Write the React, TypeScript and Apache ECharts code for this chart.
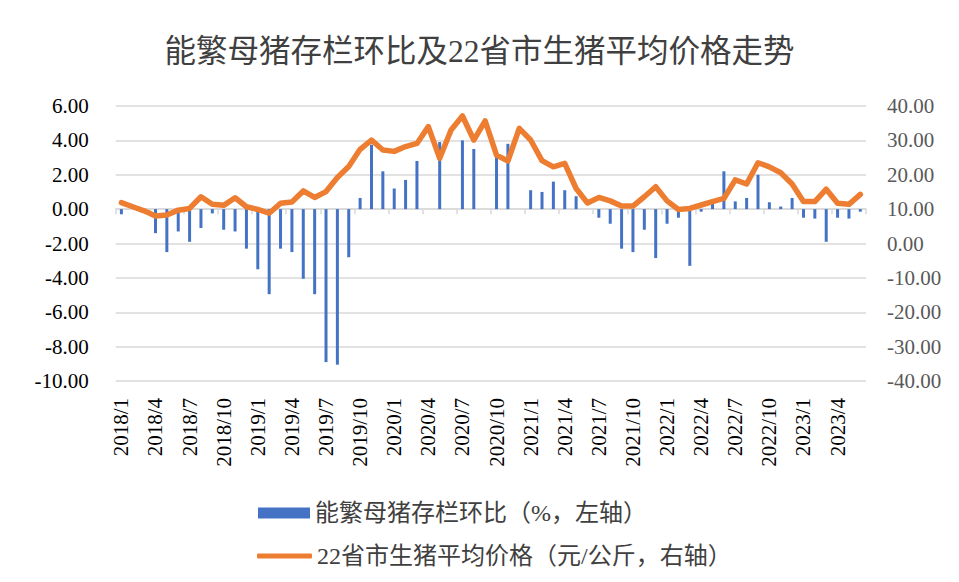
import React, { useEffect, useRef } from "react";
import * as echarts from "echarts";

const months = [
  "2018/1", "2018/2", "2018/3", "2018/4", "2018/5", "2018/6", "2018/7", "2018/8", "2018/9", "2018/10", "2018/11", "2018/12",
  "2019/1", "2019/2", "2019/3", "2019/4", "2019/5", "2019/6", "2019/7", "2019/8", "2019/9", "2019/10", "2019/11", "2019/12",
  "2020/1", "2020/2", "2020/3", "2020/4", "2020/5", "2020/6", "2020/7", "2020/8", "2020/9", "2020/10", "2020/11", "2020/12",
  "2021/1", "2021/2", "2021/3", "2021/4", "2021/5", "2021/6", "2021/7", "2021/8", "2021/9", "2021/10", "2021/11", "2021/12",
  "2022/1", "2022/2", "2022/3", "2022/4", "2022/5", "2022/6", "2022/7", "2022/8", "2022/9", "2022/10", "2022/11", "2022/12",
  "2023/1", "2023/2", "2023/3", "2023/4", "2023/5", "2023/6",
];

// 能繁母猪存栏环比（%）
const sowChange = [
  -0.3, 0, 0, -1.4, -2.5, -1.3, -1.9, -1.1, -0.25, -1.2, -1.3, -2.3,
  -3.5, -4.95, -2.3, -2.5, -4.05, -4.95, -8.9, -9.05, -2.8, 0.65, 3.75, 2.2,
  1.2, 1.7, 2.8, 0, 3.9, 0, 4.0, 3.5, 0, 3.1, 3.8, 0,
  1.1, 1.0, 1.6, 1.1, 0.75, 0, -0.5, -0.85, -2.3, -2.5, -1.2, -2.85,
  -0.85, -0.5, -3.3, -0.15, 0.3, 2.2, 0.45, 0.65, 2.0, 0.4, 0.15, 0.65,
  -0.5, -0.55, -1.9, -0.5, -0.55, -0.15,
];

// 22省市生猪平均价格（元/公斤）
const hogPrice = [
  11.9, 10.7, 9.5, 8.0, 8.3, 9.7, 10.2, 13.6, 11.4, 11.1, 13.3, 10.7,
  9.9, 8.8, 11.7, 12.1, 15.3, 13.4, 15.1, 19.2, 22.4, 27.4, 30.1, 27.2,
  26.8, 28.2, 29.1, 34.0, 24.8, 33.0, 37.1, 30.1, 35.7, 25.7, 24.0, 33.5,
  30.1, 24.1, 22.3, 23.3, 16.0, 11.8, 13.4, 12.4, 10.9, 10.9, 13.6, 16.5,
  12.4, 9.9, 10.2, 11.2, 12.2, 13.1, 18.5, 17.3, 23.5, 22.3, 20.6, 17.3,
  12.2, 12.2, 15.8, 11.7, 11.4, 14.3,
];

const titleText = "能繁母猪存栏环比及22省市生猪平均价格走势";
const barName = "能繁母猪存栏环比（%，左轴）";
const lineName = "22省市生猪平均价格（元/公斤，右轴）";

const leftMin = -10;
const leftMax = 6;
const leftStep = 2;
const rightMin = -40;
const rightMax = 40;
const rightStep = 10;

const FONT = "'Liberation Serif', 'Times New Roman', 'Noto Sans CJK SC', serif";

export default function App() {
  const ref = useRef<HTMLDivElement>(null);

  useEffect(() => {
    document.body.style.margin = "0";
    const chart = echarts.init(ref.current!, null, { renderer: "svg" });
    const fmt = (v: number) => v.toFixed(2);
    chart.setOption({
      animation: false,
      backgroundColor: "#ffffff",
      title: {
        text: titleText,
        left: "center",
        top: 36,
        padding: 0,
        textStyle: { fontSize: 31.5, fontWeight: "normal", color: "#404040", fontFamily: FONT },
      },
      legend: [
        {
          data: [{ name: barName, icon: "rect" }],
          left: 258,
          top: 501,
          padding: 0,
          itemWidth: 52,
          itemHeight: 11,
          textStyle: { fontSize: 24, color: "#404040", fontFamily: FONT },
        },
        {
          data: [{ name: lineName, icon: "roundRect" }],
          left: 257,
          top: 544,
          padding: 0,
          itemWidth: 55,
          itemHeight: 5,
          textStyle: { fontSize: 24, color: "#404040", fontFamily: FONT },
        },
      ],
      grid: { left: 115.7, right: 93, top: 106, height: 275, containLabel: false },
      xAxis: [
        {
          type: "category",
          data: months,
          position: "bottom",
          boundaryGap: true,
          axisLine: { show: false, onZero: false },
          axisTick: { show: false },
          splitLine: { show: false },
          axisLabel: {
            interval: 2,
            rotate: 90,
            margin: 17,
            fontSize: 21,
            color: "#000000",
            fontFamily: FONT,
          },
        },
        {
          type: "category",
          data: months,
          position: "bottom",
          boundaryGap: true,
          axisLine: {
            show: true,
            onZero: true,
            onZeroAxisIndex: 0,
            lineStyle: { color: "#d9d9d9", width: 1.5 },
          },
          axisTick: { show: true, interval: 2, length: 5, lineStyle: { color: "#d9d9d9", width: 1.5 } },
          axisLabel: { show: false },
          splitLine: { show: false },
        },
      ],
      yAxis: [
        {
          type: "value",
          min: leftMin,
          max: leftMax,
          interval: leftStep,
          position: "left",
          axisLine: { show: false },
          axisTick: { show: false },
          splitLine: { show: true, lineStyle: { color: "#d9d9d9", width: 1.5 } },
          axisLabel: { formatter: fmt, margin: 27, fontSize: 21, color: "#000000", fontFamily: FONT },
        },
        {
          type: "value",
          min: rightMin,
          max: rightMax,
          interval: rightStep,
          position: "right",
          axisLine: { show: false },
          axisTick: { show: false },
          splitLine: { show: false },
          axisLabel: { formatter: fmt, margin: 21, fontSize: 21, color: "#595959", fontFamily: FONT },
        },
      ],
      series: [
        {
          name: barName,
          type: "bar",
          xAxisIndex: 0,
          yAxisIndex: 0,
          data: sowChange,
          barWidth: 3,
          itemStyle: { color: "#4472C4" },
        },
        {
          name: lineName,
          type: "line",
          xAxisIndex: 0,
          yAxisIndex: 1,
          data: hogPrice,
          symbol: "none",
          z: 3,
          itemStyle: { color: "#ED7D31" },
          lineStyle: { color: "#ED7D31", width: 5.5, cap: "round", join: "round" },
        },
      ],
    });
    return () => chart.dispose();
  }, []);

  return <div ref={ref} style={{ width: 959, height: 582, background: "#ffffff" }} />;
}
